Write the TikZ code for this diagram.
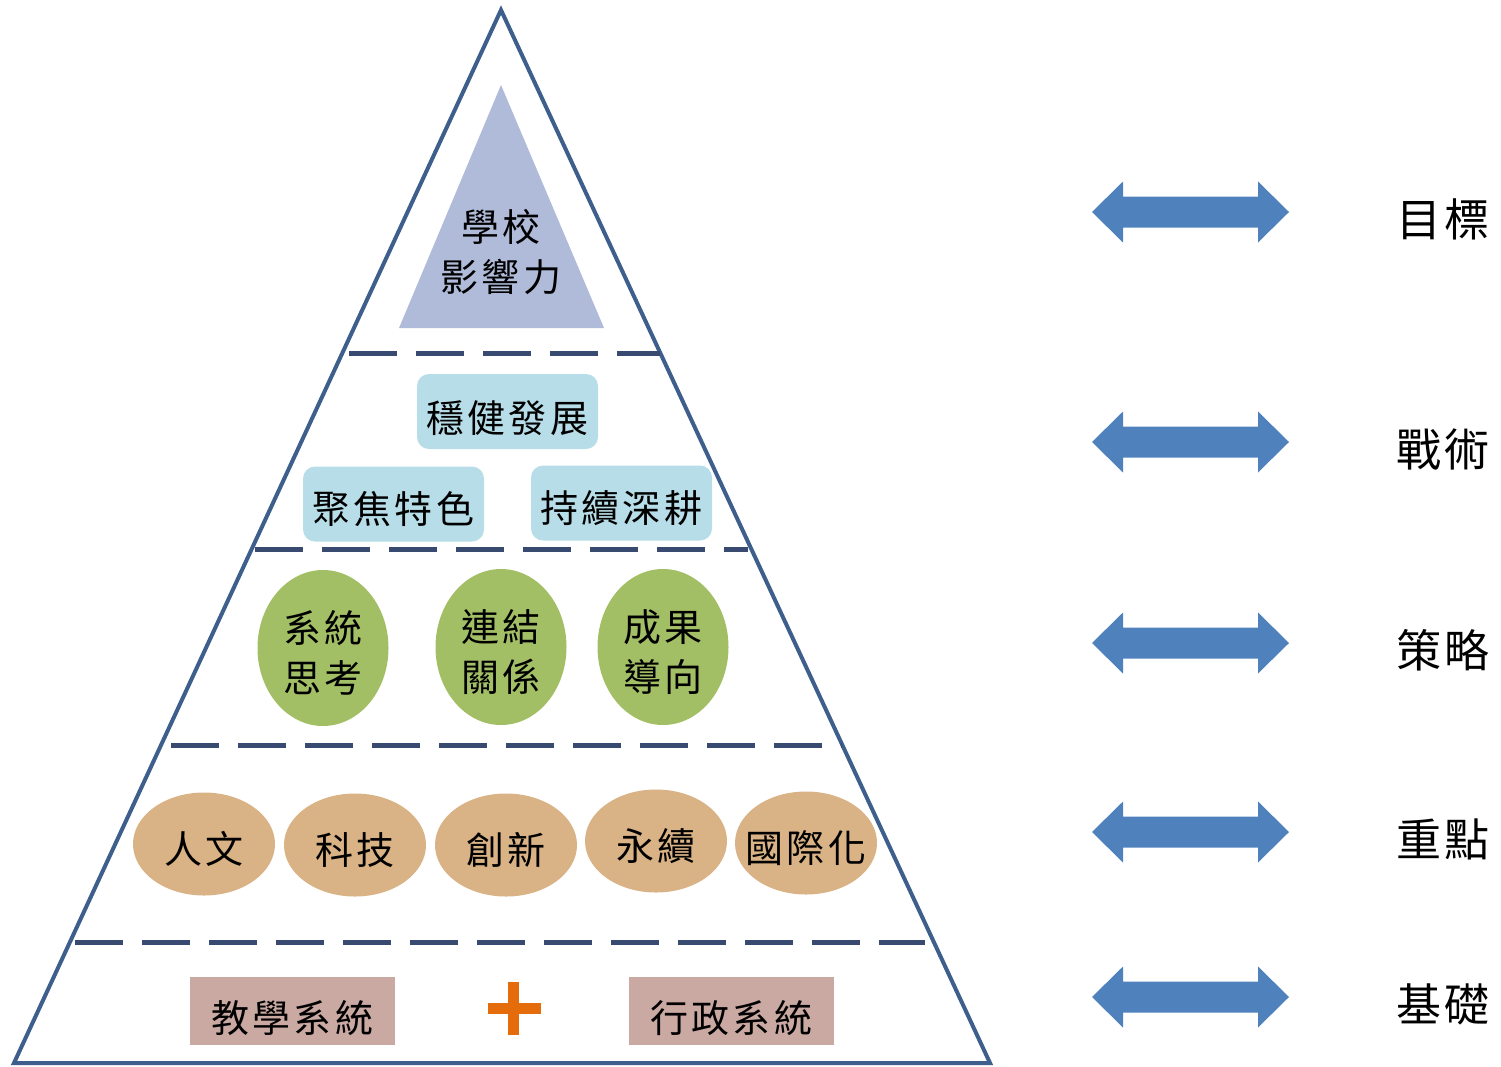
\documentclass[tikz,border=0pt]{standalone}
\usepackage{fontspec}
\newfontfamily\cjk[LetterSpace=8]{Noto Sans CJK TC}
\usetikzlibrary{shapes.geometric}
\definecolor{outline}{RGB}{62,95,140}
\definecolor{dashc}{RGB}{56,74,112}
\definecolor{innerc}{RGB}{176,187,218}
\definecolor{cyanc}{RGB}{183,221,232}
\definecolor{greenc}{RGB}{163,191,101}
\definecolor{tanc}{RGB}{217,178,133}
\definecolor{rosec}{RGB}{202,169,163}
\definecolor{orangec}{RGB}{228,108,10}
\definecolor{arrowc}{RGB}{79,129,189}
\tikzset{
  txt/.style={font=\cjk\fontsize{38}{50}\selectfont, align=center, inner sep=0pt},
  intxt/.style={txt, yshift=-5pt},
  cyanbox/.style={fill=cyanc, rounded corners=12pt, minimum width=181pt, minimum height=75pt, inner sep=0pt},
  greenball/.style={ellipse, fill=greenc, minimum width=131pt, minimum height=156pt, inner sep=0pt},
  tanball/.style={ellipse, fill=tanc, minimum width=142pt, minimum height=103pt, inner sep=0pt},
  rosebox/.style={fill=rosec, minimum width=205pt, minimum height=68pt, inner sep=0pt},
  sidelabel/.style={font=\cjk\fontsize{45}{50}\selectfont, inner sep=0pt},
  divider/.style={dashc, line width=5pt, dash pattern=on 48pt off 19pt},
  dblarrow/.style={fill=arrowc},
}
\begin{document}
\begin{tikzpicture}[x=1pt,y=-1pt]
\useasboundingbox (0,0) rectangle (1501,1066);
% outer pyramid
\coordinate (apex) at (501,10);
\coordinate (bl) at (14,1063);
\coordinate (br) at (990,1063);
\draw[outline, line width=4pt, line join=miter] (apex) -- (br) -- (bl) -- cycle;
% inner triangle
\fill[innerc] (501,85) -- (604,328) -- (399,328) -- cycle;
\node[txt] (top) at (501,252) {學校\\影響力};
% dividers
\coordinate (d1a) at (349,353); \coordinate (d1b) at (660,353);
\coordinate (d2a) at (255,549); \coordinate (d2b) at (748,549);
\coordinate (d3a) at (171,745); \coordinate (d3b) at (842,745);
\coordinate (d4a) at (75,942);  \coordinate (d4b) at (925,942);
\draw[divider] (d1a) -- (d1b);
\draw[divider] (d2a) -- (d2b);
\draw[divider] (d3a) -- (d3b);
\draw[divider] (d4a) -- (d4b);
% tactics
\node[cyanbox, label={[intxt, yshift=-2pt]center:穩健發展}] (c1) at (507.5,411.5) {};
\node[cyanbox, label={[intxt]center:聚焦特色}] (c2) at (393.5,504) {};
\node[cyanbox, label={[intxt]center:持續深耕}] (c3) at (621.5,503) {};
% strategies
\node[greenball, label={[intxt]center:系統\\思考}] (g1) at (323,648) {};
\node[greenball, label={[intxt]center:連結\\關係}] (g2) at (501,647) {};
\node[greenball, label={[intxt]center:成果\\導向}] (g3) at (663,647) {};
% key points
\node[tanball, label={[intxt]center:人文}] (t1) at (204,844) {};
\node[tanball, label={[intxt]center:科技}] (t2) at (355,845) {};
\node[tanball, label={[intxt]center:創新}] (t3) at (506,845) {};
\node[tanball, label={[intxt]center:永續}] (t4) at (656,841) {};
\node[tanball, label={[intxt]center:國際化}] (t5) at (806,843) {};
% foundation
\node[rosebox, label={[intxt, yshift=-2pt]center:教學系統}] (r1) at (292.5,1011) {};
\node[rosebox, label={[intxt, yshift=-2pt]center:行政系統}] (r2) at (731.5,1011) {};
\fill[orangec] (508,982) rectangle (519,1035);
\fill[orangec] (488,1003) rectangle (541,1014);
% side arrows and labels
\foreach \yy/\lab/\nm in {212/目標/s1, 442/戰術/s2, 643/策略/s3, 832/重點/s4, 997/基礎/s5}{
  \fill[dblarrow] (1092,\yy) -- (1123,\yy-30.5) -- (1123,\yy-15.5) -- (1258,\yy-15.5) -- (1258,\yy-30.5)
     -- (1289,\yy) -- (1258,\yy+30.5) -- (1258,\yy+15.5) -- (1123,\yy+15.5) -- (1123,\yy+30.5) -- cycle;
  \node[sidelabel] (\nm) at (1443,\yy+7) {\lab};
}
\end{tikzpicture}
\end{document}
